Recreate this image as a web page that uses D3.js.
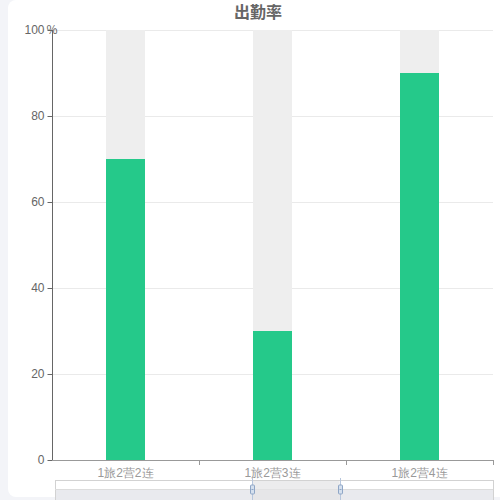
<!DOCTYPE html>
<html>
<head>
<meta charset="utf-8">
<script src="https://cdn.jsdelivr.net/npm/d3@7"></script>
<style>
  html, body { margin: 0; padding: 0; background: #f3f4f8; }
  svg { display: block; font-family: "Microsoft YaHei", "Noto Sans CJK SC", sans-serif; }
</style>
</head>
<body>
<svg id="chart" width="500" height="500"></svg>
<script>
// chart data
const categories = ["1旅2营2连", "1旅2营3连", "1旅2营4连"];
const rates = [70, 30, 90];
const yTicks = [0, 20, 40, 60, 80, 100];
const zoomRange = [45, 65]; // dataZoom window, percent

const svg = d3.select("#chart");
const margin = { left: 52, right: 493, top: 30, bottom: 460 };

// white card
svg.append("rect")
  .attr("x", 8).attr("y", 0)
  .attr("width", 510).attr("height", 497)
  .attr("rx", 8)
  .attr("fill", "#fff");

const x = d3.scaleBand()
  .domain(categories)
  .range([margin.left, margin.right]);

const y = d3.scaleLinear()
  .domain([0, 100])
  .range([margin.bottom, margin.top]);

// grid lines
svg.append("g")
  .selectAll("line")
  .data(yTicks.filter(d => d > 0))
  .enter()
  .append("line")
  .attr("x1", margin.left).attr("x2", margin.right)
  .attr("y1", d => y(d) + 0.5).attr("y2", d => y(d) + 0.5)
  .attr("stroke", "#eaeaea");

const barW = 39;

// background bars
svg.append("g")
  .selectAll("rect")
  .data(categories)
  .enter()
  .append("rect")
  .attr("x", d => x(d) + x.bandwidth() / 2 - barW / 2)
  .attr("width", barW)
  .attr("y", y(100))
  .attr("height", y(0) - y(100))
  .attr("fill", "#eeeeee");

// value bars
svg.append("g")
  .selectAll("rect")
  .data(rates)
  .enter()
  .append("rect")
  .attr("x", (d, i) => x(categories[i]) + x.bandwidth() / 2 - barW / 2)
  .attr("width", barW)
  .attr("y", d => y(d))
  .attr("height", d => y(0) - y(d))
  .attr("fill", "#25c98a");

// y axis
const yAxis = svg.append("g")
  .attr("transform", `translate(${margin.left + 0.5},0)`)
  .call(d3.axisLeft(y).tickValues(yTicks).tickSize(5).tickPadding(3));
yAxis.select(".domain").attr("stroke", "#666").attr("d", `M0,${margin.bottom}V${margin.top}`);
yAxis.selectAll(".tick line").attr("stroke", "#666");
yAxis.selectAll(".tick text")
  .attr("fill", "#666")
  .style("font-size", "12px");

svg.append("text")
  .attr("x", margin.left)
  .attr("y", margin.top + 4)
  .attr("text-anchor", "middle")
  .attr("fill", "#666")
  .style("font-size", "12px")
  .text("%");

// x axis
const xAxis = svg.append("g")
  .attr("transform", `translate(0,${margin.bottom + 0.5})`)
  .call(d3.axisBottom(x).tickSize(0).tickPadding(8));
xAxis.select(".domain").attr("stroke", "#999").attr("d", `M${margin.left},0H${margin.right}`);
xAxis.selectAll(".tick text")
  .attr("fill", "#999")
  .style("font-size", "12px");

// category boundary ticks
svg.append("g")
  .selectAll("line")
  .data(categories)
  .enter()
  .append("line")
  .attr("x1", d => x(d) + x.bandwidth() + 0.5)
  .attr("x2", d => x(d) + x.bandwidth() + 0.5)
  .attr("y1", margin.bottom)
  .attr("y2", margin.bottom + 5)
  .attr("stroke", "#999");

// title
svg.append("text")
  .attr("x", 258)
  .attr("y", 18)
  .attr("text-anchor", "middle")
  .attr("fill", "#666")
  .style("font-size", "16px")
  .style("font-weight", "bold")
  .text("出勤率");

// dataZoom slider
const zx = d3.scaleLinear().domain([0, 100]).range([55, 493]);
const slider = svg.append("g");
slider.append("rect")
  .attr("x", zx(0) + 0.5).attr("y", 480.5)
  .attr("width", zx(100) - zx(0)).attr("height", 22)
  .attr("fill", "#fff")
  .attr("stroke", "#d2d2d2");
slider.append("rect")
  .attr("x", zx(0) + 1).attr("y", 490)
  .attr("width", zx(100) - zx(0) - 1).attr("height", 12)
  .attr("fill", "#e9eaee");
slider.append("line")
  .attr("x1", zx(0)).attr("x2", zx(100))
  .attr("y1", 489.5).attr("y2", 489.5)
  .attr("stroke", "#dcdcdc");
slider.append("rect")
  .attr("x", zx(zoomRange[0])).attr("y", 481)
  .attr("width", zx(zoomRange[1]) - zx(zoomRange[0])).attr("height", 20)
  .attr("fill", "#e4e4e6")
  .attr("opacity", 0.7);

slider.selectAll(".handle")
  .data(zoomRange)
  .enter()
  .append("g")
  .attr("class", "handle")
  .each(function(d) {
    const g = d3.select(this);
    const hx = Math.round(zx(d)) + 0.5;
    g.append("line")
      .attr("x1", hx).attr("x2", hx)
      .attr("y1", 478).attr("y2", 500)
      .attr("stroke", "#b7c6dc");
    g.append("rect")
      .attr("x", hx - 2).attr("y", 485)
      .attr("width", 4).attr("height", 9)
      .attr("rx", 1)
      .attr("fill", "#d5e0ee")
      .attr("stroke", "#8fa6c6");
    g.append("line")
      .attr("x1", hx - 1).attr("x2", hx + 1)
      .attr("y1", 489.5).attr("y2", 489.5)
      .attr("stroke", "#8fa6c6");
  });
</script>
</body>
</html>
